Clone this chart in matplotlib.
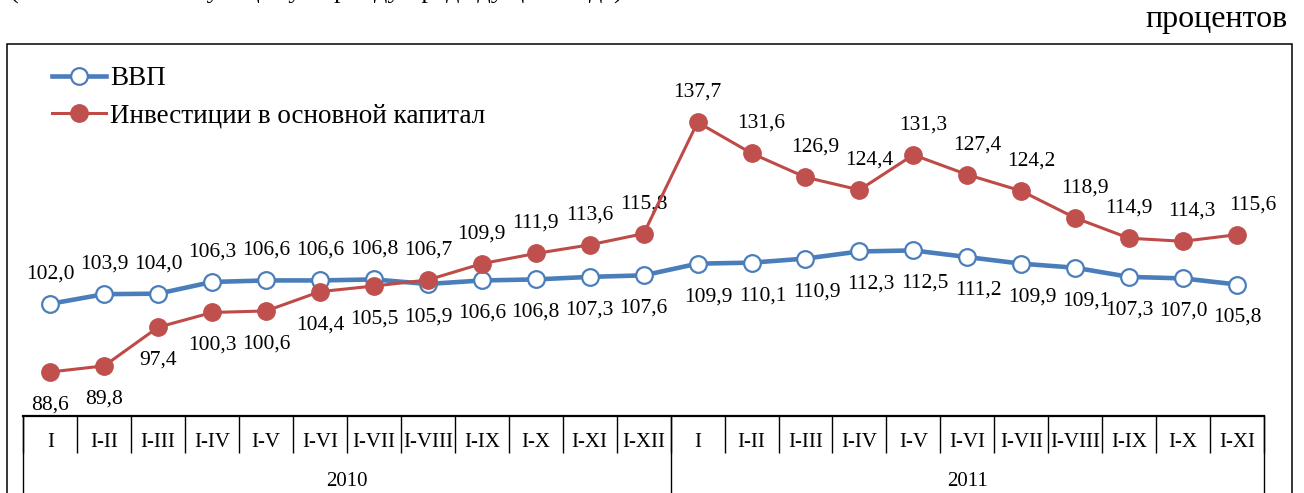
import matplotlib.pyplot as plt
from matplotlib.patches import Rectangle

# данные (в % к соответствующему периоду предыдущего года)
years = ['2010', '2011']
periods_2010 = ['I', 'I-II', 'I-III', 'I-IV', 'I-V', 'I-VI', 'I-VII', 'I-VIII', 'I-IX', 'I-X', 'I-XI', 'I-XII']
periods_2011 = ['I', 'I-II', 'I-III', 'I-IV', 'I-V', 'I-VI', 'I-VII', 'I-VIII', 'I-IX', 'I-X', 'I-XI']

gdp = [102.0, 103.9, 104.0, 106.3, 106.6, 106.6, 106.8, 105.9, 106.6, 106.8, 107.3, 107.6,
       109.9, 110.1, 110.9, 112.3, 112.5, 111.2, 109.9, 109.1, 107.3, 107.0, 105.8]
invest = [88.6, 89.8, 97.4, 100.3, 100.6, 104.4, 105.5, 106.7, 109.9, 111.9, 113.6, 115.8,
          137.7, 131.6, 126.9, 124.4, 131.3, 127.4, 124.2, 118.9, 114.9, 114.3, 115.6]

# где подпись: 1 - над точкой, -1 - под точкой
gdp_lab_side = [1] * 7 + [-1] * 16
inv_lab_side = [-1] * 7 + [1] * 16
# сдвиг подписей вправо (пиксели), как в исходнике
gdp_lab_dx = [0] * 12 + [11] * 8 + [0] * 3
inv_lab_dx = [0] * 13 + [10] * 7 + [0, 9, 16]

plt.rcParams['font.family'] = ['Liberation Serif', 'DejaVu Serif']

W, H = 1304, 493
PX = 0.72  # пиксель в пунктах при dpi=100
fig = plt.figure(figsize=(W / 100, H / 100), dpi=100)

# пиксели -> доли фигуры
ax_left, ax_right, ax_bottom, ax_top = 23.3, 1264, 415.7, 59.75
ax = fig.add_axes([ax_left / W, 1 - ax_bottom / H, (ax_right - ax_left) / W, (ax_bottom - ax_top) / H])
ax_h = ax_bottom - ax_top

labels = periods_2010 + periods_2011
x = list(range(len(labels)))

blue = '#4A7EBB'
red = '#BE4B48'

ax.plot(x, gdp, color=blue, lw=3.3, marker='o', ms=12, mfc='white', mec=blue, mew=1.6,
        zorder=3, clip_on=False, label='ВВП')
ax.plot(x, invest, color=red, lw=2.2, marker='o', ms=12.5, mfc='#C0504D', mec='#C0504D',
        zorder=4, clip_on=False, label='Инвестиции в основной капитал')

def fmt(v):
    return f'{v:.1f}'.replace('.', ',')

def dy(side):
    return 30 * PX if side > 0 else -33 * PX

for i, v in enumerate(gdp):
    ax.annotate(fmt(v), (i, v), xytext=(gdp_lab_dx[i] * PX, dy(gdp_lab_side[i])),
                textcoords='offset points', ha='center', va='center', fontsize=15.5,
                annotation_clip=False)
for i, v in enumerate(invest):
    ax.annotate(fmt(v), (i, v), xytext=(inv_lab_dx[i] * PX, dy(inv_lab_side[i])),
                textcoords='offset points', ha='center', va='center', fontsize=15.5,
                annotation_clip=False)

ax.set_xlim(-0.5, len(labels) - 0.5)
ax.set_ylim(80, 150)
ax.set_yticks([])
for s in ['left', 'right', 'top']:
    ax.spines[s].set_visible(False)
ax.spines['bottom'].set_linewidth(1.6)

ax.set_xticks(x)
ax.set_xticklabels(labels, fontsize=15)
ax.set_xticks([i - 0.5 for i in range(len(labels) + 1)], minor=True)
ax.tick_params(axis='x', which='major', length=0, pad=12.5)
ax.tick_params(axis='x', which='minor', length=26.9, width=1.0, direction='out')

# границы годов в таблице
trans = ax.get_xaxis_transform()
n10 = len(periods_2010)
for xb in [-0.5, n10 - 0.5, len(labels) - 0.5]:
    ax.plot([xb, xb], [0, -0.3], color='black', lw=1.0, transform=trans, clip_on=False)
y_year = -(481 - ax_bottom) / ax_h
ax.text((n10 - 1) / 2, y_year, years[0], transform=trans, ha='center', va='center', fontsize=15)
ax.text(n10 + (len(periods_2011) - 1) / 2, y_year, years[1], transform=trans,
        ha='center', va='center', fontsize=15)

ax.legend(loc='upper left', bbox_to_anchor=(52 / W, 1 - 66 / H), bbox_transform=fig.transFigure,
          frameon=False, fontsize=19.5, handlelength=2.0, handletextpad=0.14, labelspacing=0.45,
          borderpad=0, borderaxespad=0)

# рамка диаграммы
fig.patches.append(Rectangle((7.3 / W, -0.1), (1291.5 - 7.3) / W, 1.1 - 44 / H, fill=False,
                             lw=1.1, edgecolor='black', transform=fig.transFigure, clip_on=False))

fig.text(1288 / W, 1 - 27 / H, 'процентов', ha='right', va='baseline', fontsize=23)
fig.text(10 / W, 1 + 1 / H, '(в % к соответствующему периоду предыдущего года)',
         ha='left', va='baseline', fontsize=19)

fig.savefig('out.png', dpi=100)
